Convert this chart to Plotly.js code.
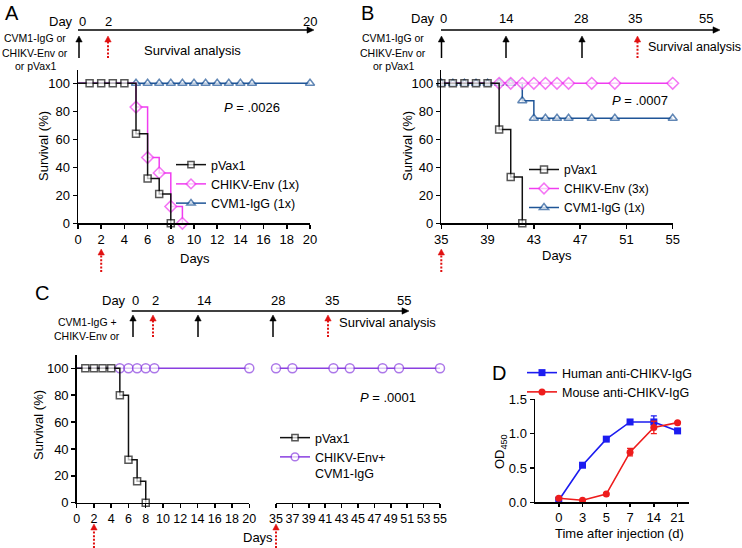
<!DOCTYPE html>
<html><head><meta charset="utf-8">
<script src="https://cdn.plot.ly/plotly-3.0.1.min.js"></script>
<style>html,body{margin:0;padding:0;background:#fff}#chart{width:742px;height:548px}</style>
</head><body><div id="chart"></div>
<script>
// ---------------- DATA ----------------
// Panel A (survival, days 0-20)
const daysA_pvax = [0,1,2,3,4,5,6,7,8];
const survA_pvax = [100,100,100,100,100,64,32,21,0];
const daysA_env  = [0,5,6,7,8,9];
const survA_env  = [100,83,47,36,12,0];
const daysA_cvm  = [0,5,6,7,8,9,10,11,12,13,14,15,20];
const survA_cvm  = [100,100,100,100,100,100,100,100,100,100,100,100,100];
// Panel B (survival, days 35-55)
const daysB_pvax = [35,36,37,38,39,40,41,42];
const survB_pvax = [100,100,100,100,100,67,33,0];
const daysB_env  = [35,40,41,42,43,44,45,46,48,50,55];
const survB_env  = [100,100,100,100,100,100,100,100,100,100,100];
const daysB_cvm  = [35,36,37,38,39,40,41,42,43,44,45,46,48,50,55];
const survB_cvm  = [100,100,100,100,100,100,100,87.5,75,75,75,75,75,75,75];
// Panel C (survival, broken axis 0-20 / 35-55)
const daysC_pvax = [0,1,2,3,4,5,6,7,8];
const survC_pvax = [100,100,100,100,100,80,32,16,0];
const daysC_comboEarly = [0,5,6,7,8,9,20];
const survC_comboEarly = [100,100,100,100,100,100,100];
const daysC_comboLate  = [35,37,42,44,48,50,55];
const survC_comboLate  = [100,100,100,100,100,100,100];
// Panel D (OD450 over time)
const timeD    = ['0','3','5','7','14','21'];
const humanOD  = [0.03,0.54,0.92,1.17,1.17,1.04];
const humanErr = [0.01,0.01,0.01,0.035,0.09,0.01];
const mouseOD  = [0.06,0.03,0.12,0.73,1.09,1.16];
const mouseErr = [0.01,0.01,0.01,0.055,0.09,0.01];
// Challenge days marked under the survival axes
const challengeA = [2];
const challengeB = [35];
const challengeC = [2, 35];
// Labels
const namesA = ['pVax1','CHIKV-Env (1x)','CVM1-IgG (1x)'];
const namesB = ['pVax1','CHIKV-Env (3x)','CVM1-IgG (1x)'];
const namesC = ['pVax1','CHIKV-Env+<br>CVM1-IgG'];
const namesD = ['Human anti-CHIKV-IgG','Mouse anti-CHIKV-IgG'];
const pValues = ['.0026','.0007','.0001'];
const survTicks = [0,20,40,60,80,100];
const odTicks = [0,0.5,1.0,1.5];
const timelineA = ['0','2','20'];
const timelineB = ['0','14','28','35','55'];
const timelineC = ['0','2','14','28','35','55'];
const treatA = ['CVM1-IgG or','CHIKV-Env or','or pVax1'];
const treatC = ['CVM1-IgG +','CHIKV-Env or'];

// ---------------- STYLE / LAYOUT ----------------
const W = 742, H = 548;
const px = v => v / W;
const py = v => 1 - v / H;
const FONT = 'Liberation Sans, Arial, Helvetica, sans-serif';
const BLACK = '#111111', MAGENTA = '#f03cf0', STEEL = '#1f5597', PURPLE = '#8a3fe0';
const DBLUE = '#1c1cf0', DRED = '#ee1c1c', RED = '#e01010';

function km(x, y, name, color, symbol, xa, ya, legend, hideFirst, showlegend, size) {
  return {
    type: 'scatter', mode: 'lines+markers', x: x, y: y, name: name,
    xaxis: xa, yaxis: ya, legend: legend, showlegend: showlegend,
    line: {shape: 'hv', color: color, width: 1.5},
    marker: {symbol: symbol, size: x.map((_, i) => (hideFirst && i === 0) ? 0 : size),
             color: '#ffffff', line: {color: color, width: 1.5}},
    cliponaxis: false, hoverinfo: 'skip'
  };
}

const traces = [
  km(daysA_cvm, survA_cvm, namesA[2], STEEL, 'triangle-up', 'x', 'y', 'legend', true, true, 8),
  km(daysA_env, survA_env, namesA[1], MAGENTA, 'diamond', 'x', 'y', 'legend', true, true, 9),
  km(daysA_pvax, survA_pvax, namesA[0], BLACK, 'square', 'x', 'y', 'legend', true, true, 7),
  km(daysB_cvm, survB_cvm, namesB[2], STEEL, 'triangle-up', 'x2', 'y2', 'legend2', false, true, 8),
  km(daysB_env, survB_env, namesB[1], MAGENTA, 'diamond', 'x2', 'y2', 'legend2', true, true, 9),
  km(daysB_pvax, survB_pvax, namesB[0], BLACK, 'square', 'x2', 'y2', 'legend2', false, true, 7),
  km(daysC_comboEarly, survC_comboEarly, namesC[1], PURPLE, 'circle', 'x3', 'y3', 'legend3', true, true, 9),
  km(daysC_comboLate, survC_comboLate, namesC[1], PURPLE, 'circle', 'x4', 'y3', 'legend3', false, false, 9),
  km(daysC_pvax, survC_pvax, namesC[0], BLACK, 'square', 'x3', 'y3', 'legend3', true, true, 7),
  {type: 'scatter', mode: 'lines+markers', x: timeD, y: humanOD, name: namesD[0], xaxis: 'x5', yaxis: 'y5', legend: 'legend4',
   line: {color: DBLUE, width: 1.6}, marker: {symbol: 'square', size: 7, color: DBLUE},
   error_y: {type: 'data', array: humanErr, visible: true, color: DBLUE, thickness: 1.3, width: 3},
   cliponaxis: false, hoverinfo: 'skip'},
  {type: 'scatter', mode: 'lines+markers', x: timeD, y: mouseOD, name: namesD[1], xaxis: 'x5', yaxis: 'y5', legend: 'legend4',
   line: {color: DRED, width: 1.6}, marker: {symbol: 'circle', size: 7, color: DRED},
   error_y: {type: 'data', array: mouseErr, visible: true, color: DRED, thickness: 1.3, width: 3},
   cliponaxis: false, hoverinfo: 'skip'}
];

const baseAxis = {showgrid: false, zeroline: false, showline: true, linecolor: '#000', linewidth: 1.5,
  ticks: 'outside', ticklen: 4, tickwidth: 1.5, tickcolor: '#000',
  tickfont: {family: FONT, size: 13, color: '#000'}, fixedrange: true};
const ax = o => Object.assign({}, baseAxis, o);

const xaxis  = ax({domain: [px(78), px(310)], range: [0, 20], dtick: 2, tick0: 0, anchor: 'y'});
const yaxis  = ax({domain: [py(223.3), py(70)], range: [0, 109.5], tickvals: survTicks, anchor: 'x'});
const xaxis2 = ax({domain: [px(441.3), px(672.7)], range: [35, 55], dtick: 4, tick0: 35, anchor: 'y2'});
const yaxis2 = ax({domain: [py(223.3), py(70)], range: [0, 109.5], tickvals: survTicks, anchor: 'x2'});
const xaxis3 = ax({domain: [px(76.7), px(249.3)], range: [0, 20], dtick: 2, tick0: 0, anchor: 'y3',
                   tickfont: {family: FONT, size: 12.5, color: '#000'}});
const xaxis4 = ax({domain: [px(276), px(440)], range: [35, 55], dtick: 2, tick0: 35, anchor: 'y3',
                   tickfont: {family: FONT, size: 12.5, color: '#000'}});
const yaxis3 = ax({domain: [py(502.7), py(355)], range: [0, 109.9], tickvals: survTicks, anchor: 'x3'});
const xaxis5 = ax({domain: [px(535), px(689)], type: 'category', categoryorder: 'array', categoryarray: timeD,
                   range: [-1, 5.48], anchor: 'y5', ticklen: 3});
const yaxis5 = ax({domain: [py(502.3), py(399.3)], range: [0, 1.5], tickvals: odTicks, tickformat: '.1f', anchor: 'x5'});

// position (in px) of a value on a linear x axis, from the axis's own domain and range
const onAxis = (a, v) => W * (a.domain[0] + (v - a.range[0]) / (a.range[1] - a.range[0]) * (a.domain[1] - a.domain[0]));

const shapes = [];
const annotations = [];
function txt(text, x, y, o) {
  annotations.push(Object.assign({text: text, xref: 'paper', yref: 'paper', x: px(x), y: py(y),
    xanchor: 'center', yanchor: 'middle', showarrow: false,
    font: {family: FONT, size: 13, color: '#000'}}, o || {}));
}
function vArrow(x, yBottom, yTip, color, dotted) {
  const head = 6;
  shapes.push({type: 'line', xref: 'paper', yref: 'paper', x0: px(x), x1: px(x), y0: py(yBottom), y1: py(yTip + head - 1),
    line: {color: color, width: dotted ? 2 : 1.5, dash: dotted ? '2px,1.6px' : 'solid'}});
  shapes.push({type: 'path', xref: 'paper', yref: 'paper',
    path: `M ${px(x - 3.2)} ${py(yTip + head)} L ${px(x + 3.2)} ${py(yTip + head)} L ${px(x)} ${py(yTip)} Z`,
    fillcolor: color, line: {color: color, width: 0.5}});
}
function hArrow(x0, x1, y) {
  shapes.push({type: 'line', xref: 'paper', yref: 'paper', x0: px(x0), x1: px(x1 - 5), y0: py(y), y1: py(y),
    line: {color: '#000', width: 1.3}});
  shapes.push({type: 'path', xref: 'paper', yref: 'paper',
    path: `M ${px(x1 - 7)} ${py(y - 3.2)} L ${px(x1 - 7)} ${py(y + 3.2)} L ${px(x1)} ${py(y)} Z`,
    fillcolor: '#000', line: {color: '#000', width: 0.5}});
}
const small = {family: FONT, size: 10.5, color: '#000'};
const big = {family: FONT, size: 20, color: '#000'};

// ---- Panel letters
txt('A', 12, 13, {font: big});
txt('B', 367, 13, {font: big});
txt('C', 42, 293, {font: big});
txt('D', 499, 373, {font: big});

// ---- Timeline A
txt('Day', 61, 21);
[82, 108, 310].forEach((x, i) => txt(timelineA[i], x, 21));
hArrow(78, 314, 30);
vArrow(79, 58, 36, '#000', false);
vArrow(108, 58, 36, RED, true);
txt('Survival analysis', 142, 50, {xanchor: 'left'});
[38, 53, 66].forEach((y, i) => txt(treatA[i], 35, y, {font: small}));

// ---- Timeline B
txt('Day', 423, 18);
[443.7, 506, 581, 635, 706].forEach((x, i) => txt(timelineB[i], x, 18));
hArrow(441, 720, 30);
[441.5, 506, 582].forEach(x => vArrow(x, 58, 36, '#000', false));
vArrow(637.5, 58, 36, RED, true);
txt('Survival analysis', 646, 47, {xanchor: 'left', font: {family: FONT, size: 12.5, color: '#000'}});
[38, 53, 66].forEach((y, i) => txt(treatA[i], 393, y, {font: small}));

// ---- Timeline C
txt('Day', 114, 300);
[135, 155, 204, 278, 332, 404].forEach((x, i) => txt(timelineC[i], x, 300));
hArrow(131.7, 409, 311);
[133, 198, 273].forEach(x => vArrow(x, 337, 315, '#000', false));
[153, 328].forEach(x => vArrow(x, 337, 315, RED, true));
txt('Survival analysis', 337, 322, {xanchor: 'left'});
[322, 336].forEach((y, i) => txt(treatC[i], 87, y, {font: small}));

// ---- Red arrows under the survival axes (challenge days, placed with the axes' scales)
challengeA.forEach(d => vArrow(onAxis(xaxis, d), 272, 249, RED, true));
challengeB.forEach(d => vArrow(onAxis(xaxis2, d), 272, 249, RED, true));
challengeC.forEach(d => vArrow(d < 30 ? onAxis(xaxis3, d) : onAxis(xaxis4, d), 548, 524, RED, true));

// ---- Axis titles
txt('Survival (%)', 43, 146, {textangle: -90});
txt('Days', 195, 258);
txt('Survival (%)', 407, 146, {textangle: -90});
txt('Days', 557, 255);
txt('Survival (%)', 38, 425, {textangle: -90});
txt('Days', 258, 537);
txt('OD<sub>450</sub>', 500, 452, {textangle: -90});
txt('Time after injection (d)', 619, 533);

// ---- P values
txt('<i>P</i> = ' + pValues[0], 222, 107, {xanchor: 'left'});
txt('<i>P</i> = ' + pValues[1], 610, 101, {xanchor: 'left'});
txt('<i>P</i> = ' + pValues[2], 358, 397, {xanchor: 'left'});

const legBase = {bgcolor: 'rgba(0,0,0,0)', borderwidth: 0, xanchor: 'left', yanchor: 'top',
  font: {family: FONT, size: 12.5, color: '#000'}, traceorder: 'reversed', itemclick: false, itemdoubleclick: false};

const layout = {
  width: W, height: H, margin: {l: 0, r: 0, t: 0, b: 0},
  paper_bgcolor: '#fff', plot_bgcolor: 'rgba(0,0,0,0)',
  font: {family: FONT, size: 13, color: '#000'},
  showlegend: true,
  xaxis: xaxis, yaxis: yaxis, xaxis2: xaxis2, yaxis2: yaxis2,
  xaxis3: xaxis3, xaxis4: xaxis4, yaxis3: yaxis3, xaxis5: xaxis5, yaxis5: yaxis5,
  legend:  Object.assign({}, legBase, {x: px(171), y: py(150)}),
  legend2: Object.assign({}, legBase, {x: px(524), y: py(155), font: {family: FONT, size: 12, color: '#000'}}),
  legend3: Object.assign({}, legBase, {x: px(275), y: py(423), valign: 'top'}),
  legend4: Object.assign({}, legBase, {x: px(522), y: py(358), traceorder: 'normal'}),
  shapes: shapes,
  annotations: annotations
};

Plotly.newPlot('chart', traces, layout, {staticPlot: true, displayModeBar: false});
</script>
</body></html>
